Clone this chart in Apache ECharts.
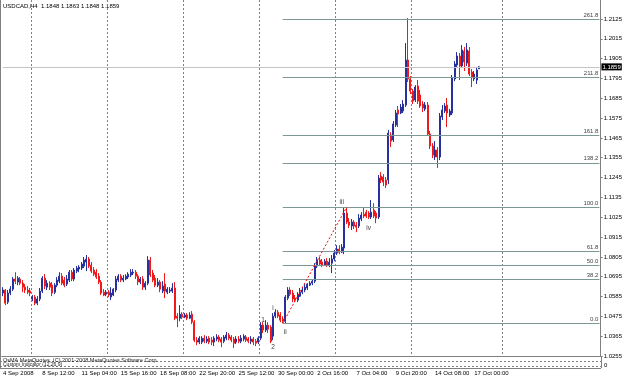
<!DOCTYPE html>
<html><head><meta charset="utf-8">
<script src="https://cdn.jsdelivr.net/npm/echarts@6/dist/echarts.min.js"></script>
<style>html,body{margin:0;padding:0;background:#fff}#c{width:625px;height:378px}</style>
</head><body><div id="c"></div>
<script>
const symbolName = 'USDCAD,H4';
const barCount = 244; // bar slots incl. right-side chart shift
const xTickIndex = [0,16,32,48,64,80,96,112,128,144,160,176,192];
const xTickLabels = ['4 Sep 2008','8 Sep 12:00','11 Sep 04:00','15 Sep 16:00','18 Sep 08:00','22 Sep 20:00','25 Sep 12:00','30 Sep 00:00','2 Oct 16:00','7 Oct 04:00','9 Oct 20:00','14 Oct 08:00','17 Oct 00:00'];
const weekLineIndex = [12,43,74,105,136,167,204];
const yTickValues = [1.0255,1.0365,1.0475,1.0585,1.0695,1.0805,1.0915,1.1025,1.1135,1.1245,1.1355,1.1465,1.1575,1.1685,1.1795,1.1905,1.2015,1.2125];
// [open, close, low, high]
const candles = [
[1.0604,1.0621,1.0587,1.0637],[1.0621,1.0548,1.0537,1.0626],[1.0554,1.0604,1.0543,1.0621],[1.0604,1.0626,1.0593,1.0643],
[1.0626,1.0682,1.0615,1.0693],[1.0682,1.0670,1.0654,1.0720],[1.0665,1.0687,1.0648,1.0698],[1.0682,1.0659,1.0648,1.0693],
[1.0659,1.0637,1.0609,1.0676],[1.0637,1.0621,1.0604,1.0654],[1.0621,1.0609,1.0598,1.0643],[1.0615,1.0604,1.0587,1.0632],
[1.0571,1.0582,1.0559,1.0593],[1.0582,1.0548,1.0537,1.0593],[1.0548,1.0571,1.0537,1.0587],[1.0571,1.0615,1.0559,1.0632],
[1.0615,1.0687,1.0604,1.0698],[1.0687,1.0643,1.0626,1.0709],[1.0637,1.0659,1.0621,1.0676],[1.0659,1.0637,1.0621,1.0670],
[1.0648,1.0604,1.0587,1.0665],[1.0609,1.0648,1.0598,1.0659],[1.0648,1.0676,1.0637,1.0693],[1.0670,1.0698,1.0659,1.0720],
[1.0698,1.0659,1.0648,1.0715],[1.0676,1.0648,1.0637,1.0693],[1.0654,1.0682,1.0643,1.0704],[1.0676,1.0720,1.0665,1.0732],
[1.0720,1.0682,1.0670,1.0732],[1.0682,1.0732,1.0670,1.0743],[1.0726,1.0743,1.0715,1.0754],[1.0737,1.0748,1.0720,1.0759],
[1.0743,1.0765,1.0732,1.0776],[1.0754,1.0787,1.0743,1.0804],[1.0776,1.0793,1.0726,1.0815],[1.0793,1.0754,1.0743,1.0804],
[1.0759,1.0726,1.0715,1.0776],[1.0732,1.0709,1.0698,1.0748],[1.0720,1.0693,1.0682,1.0737],[1.0698,1.0665,1.0654,1.0715],
[1.0665,1.0604,1.0593,1.0676],[1.0609,1.0593,1.0587,1.0626],[1.0598,1.0609,1.0587,1.0621],[1.0609,1.0593,1.0582,1.0621],
[1.0582,1.0604,1.0565,1.0637],[1.0593,1.0626,1.0587,1.0632],[1.0621,1.0682,1.0609,1.0698],[1.0676,1.0698,1.0665,1.0709],
[1.0698,1.0676,1.0665,1.0709],[1.0676,1.0687,1.0665,1.0704],[1.0682,1.0698,1.0676,1.0709],[1.0693,1.0709,1.0682,1.0720],
[1.0704,1.0720,1.0693,1.0737],[1.0715,1.0720,1.0704,1.0737],[1.0720,1.0698,1.0682,1.0732],[1.0698,1.0665,1.0648,1.0709],
[1.0665,1.0682,1.0654,1.0693],[1.0682,1.0637,1.0621,1.0698],[1.0637,1.0659,1.0621,1.0670],[1.0659,1.0787,1.0648,1.0809],
[1.0787,1.0704,1.0693,1.0804],[1.0715,1.0676,1.0665,1.0732],[1.0687,1.0648,1.0637,1.0704],[1.0648,1.0665,1.0637,1.0687],
[1.0665,1.0626,1.0609,1.0676],[1.0615,1.0643,1.0604,1.0670],[1.0654,1.0615,1.0576,1.0715],[1.0609,1.0626,1.0598,1.0637],
[1.0615,1.0621,1.0604,1.0637],[1.0615,1.0632,1.0604,1.0659],[1.0632,1.0465,1.0454,1.0665],[1.0476,1.0465,1.0415,1.0493],
[1.0465,1.0487,1.0448,1.0537],[1.0487,1.0471,1.0460,1.0498],[1.0471,1.0482,1.0465,1.0493],[1.0482,1.0465,1.0454,1.0493],
[1.0465,1.0482,1.0460,1.0498],[1.0487,1.0443,1.0432,1.0504],[1.0443,1.0343,1.0332,1.0454],[1.0343,1.0332,1.0315,1.0360],
[1.0332,1.0354,1.0321,1.0365],[1.0332,1.0354,1.0321,1.0365],[1.0354,1.0337,1.0326,1.0371],[1.0337,1.0349,1.0326,1.0365],
[1.0354,1.0332,1.0321,1.0365],[1.0343,1.0332,1.0315,1.0360],[1.0332,1.0354,1.0310,1.0365],[1.0349,1.0360,1.0337,1.0376],
[1.0360,1.0343,1.0332,1.0371],[1.0349,1.0332,1.0304,1.0360],[1.0337,1.0360,1.0326,1.0371],[1.0354,1.0371,1.0343,1.0388],
[1.0371,1.0354,1.0343,1.0382],[1.0360,1.0343,1.0332,1.0371],[1.0349,1.0326,1.0299,1.0360],[1.0332,1.0349,1.0321,1.0365],
[1.0349,1.0337,1.0326,1.0365],[1.0337,1.0354,1.0326,1.0371],[1.0349,1.0365,1.0337,1.0376],[1.0360,1.0343,1.0332,1.0371],
[1.0349,1.0337,1.0326,1.0360],[1.0337,1.0349,1.0321,1.0365],[1.0349,1.0332,1.0315,1.0360],[1.0337,1.0326,1.0310,1.0349],
[1.0332,1.0354,1.0321,1.0365],[1.0354,1.0426,1.0343,1.0443],[1.0426,1.0399,1.0382,1.0443],[1.0399,1.0426,1.0388,1.0454],
[1.0426,1.0404,1.0382,1.0443],[1.0415,1.0337,1.0326,1.0426],[1.0365,1.0476,1.0343,1.0493],[1.0476,1.0498,1.0465,1.0515],
[1.0498,1.0476,1.0465,1.0510],[1.0482,1.0454,1.0443,1.0498],[1.0460,1.0448,1.0437,1.0476],[1.0448,1.0582,1.0437,1.0593],
[1.0576,1.0621,1.0565,1.0637],[1.0621,1.0598,1.0587,1.0637],[1.0604,1.0571,1.0554,1.0621],[1.0576,1.0565,1.0554,1.0593],
[1.0565,1.0593,1.0554,1.0609],[1.0587,1.0609,1.0582,1.0632],[1.0609,1.0621,1.0598,1.0637],[1.0621,1.0637,1.0609,1.0654],
[1.0632,1.0654,1.0621,1.0659],[1.0648,1.0659,1.0643,1.0670],[1.0659,1.0670,1.0648,1.0682],[1.0670,1.0754,1.0659,1.0770],
[1.0754,1.0787,1.0743,1.0804],[1.0787,1.0765,1.0754,1.0804],[1.0776,1.0759,1.0748,1.0793],[1.0759,1.0781,1.0754,1.0793],
[1.0781,1.0759,1.0748,1.0798],[1.0759,1.0776,1.0748,1.0798],[1.0770,1.0793,1.0715,1.0815],[1.0793,1.0826,1.0781,1.0843],
[1.0826,1.0848,1.0815,1.0870],[1.0848,1.0831,1.0820,1.0870],[1.0831,1.0859,1.0826,1.0876],[1.0854,1.1048,1.0820,1.1076],
[1.1048,1.0998,1.0987,1.1081],[1.0998,1.0981,1.0965,1.1020],[1.0976,1.0998,1.0954,1.1015],[1.0998,1.0976,1.0959,1.1009],
[1.0981,1.0970,1.0942,1.0998],[1.0976,1.1020,1.0965,1.1042],[1.1015,1.1037,1.1003,1.1053],[1.1042,1.1031,1.1020,1.1076],
[1.1053,1.1031,1.1020,1.1065],[1.1048,1.1026,1.1015,1.1059],[1.1026,1.1053,1.1015,1.1120],[1.1065,1.1031,1.1020,1.1103],
[1.1048,1.1020,1.0992,1.1059],[1.1026,1.1242,1.1015,1.1259],[1.1253,1.1231,1.1214,1.1275],[1.1248,1.1220,1.1198,1.1264],
[1.1231,1.1203,1.1187,1.1248],[1.1231,1.1492,1.1209,1.1509],[1.1481,1.1447,1.1414,1.1497],[1.1453,1.1542,1.1442,1.1558],
[1.1536,1.1603,1.1525,1.1620],[1.1620,1.1597,1.1525,1.1642],[1.1603,1.1636,1.1597,1.1653],[1.1614,1.1653,1.1603,1.1675],
[1.1647,1.1897,1.1636,1.1991],[1.1897,1.1792,1.1775,1.2130],[1.1792,1.1725,1.1708,1.1808],[1.1725,1.1669,1.1653,1.1736],
[1.1675,1.1747,1.1664,1.1758],[1.1753,1.1669,1.1653,1.1786],[1.1703,1.1642,1.1631,1.1731],[1.1653,1.1631,1.1608,1.1669],
[1.1625,1.1647,1.1614,1.1664],[1.1647,1.1486,1.1475,1.1664],[1.1486,1.1420,1.1403,1.1503],[1.1420,1.1370,1.1353,1.1436],
[1.1359,1.1398,1.1342,1.1447],[1.1398,1.1359,1.1298,1.1414],[1.1359,1.1586,1.1342,1.1603],[1.1581,1.1620,1.1564,1.1647],
[1.1614,1.1642,1.1603,1.1658],[1.1647,1.1603,1.1525,1.1686],[1.1592,1.1614,1.1581,1.1625],[1.1603,1.1797,1.1592,1.1814],
[1.1792,1.1875,1.1780,1.1891],[1.1869,1.1919,1.1858,1.1941],[1.1919,1.1864,1.1786,1.1936],[1.1864,1.1953,1.1853,1.1980],
[1.1947,1.1886,1.1836,1.1969],[1.1880,1.1953,1.1864,1.1991],[1.1947,1.1819,1.1808,1.1969],[1.1830,1.1803,1.1747,1.1847],
[1.1792,1.1819,1.1780,1.1836],[1.1786,1.1842,1.1764,1.1853],[1.1848,1.1859,1.1848,1.1863]
];
const fibLevels = [0, 38.2, 50, 61.8, 100, 138.2, 161.8, 211.8, 261.8];
const fibStartBar = 114, fibEndBar = 140;
const fibLow = 1.0437, fibHigh = 1.1081;
const waveLabels = [['1',106,1.0454],['i',110,1.0521],['ii',115,1.0388],['2',110,1.0304],['iii',138,1.1109],['iv',149,1.0965]];

const categories = Array.from({length: barCount}, (_, i) => String(i));
const last = candles[candles.length - 1];
const lastClose = last[1];
const fibColor = '#7d9696';
const fontFam = 'Liberation Sans, Arial, sans-serif';
const fibLines = fibLevels.map(l => {
  const v = fibLow + (fibHigh - fibLow) * l / 100;
  return [{coord: [fibStartBar, v], lineStyle: {color: fibColor, width: 1, type: 'solid'},
           label: {show: true, position: 'insideEndTop', formatter: l.toFixed(1), fontSize: 6, color: '#444', distance: 1}},
          {coord: [barCount - 1, v]}];
});
const trendLine = [{coord: [fibStartBar, fibLow], lineStyle: {color: '#ff0000', width: 1, type: [2, 2]}, label: {show: false}},
                   {coord: [fibEndBar, fibHigh]}];
const priceLine = [{coord: [0, lastClose], lineStyle: {color: '#c4c4c4', width: 1, type: 'solid'},
                    label: {show: true, position: 'end', formatter: lastClose.toFixed(4), fontSize: 6, color: '#fff',
                            backgroundColor: '#000', padding: [1, 1, 0, 1], distance: 2}},
                   {coord: [barCount - 1, lastClose]}];

const chart = echarts.init(document.getElementById('c'), null, {renderer: 'canvas'});
chart.setOption({
  animation: false,
  backgroundColor: '#fff',
  textStyle: {fontFamily: fontFam},
  grid: {left: 1, right: 24, top: 0, bottom: 22, containLabel: false},
  xAxis: {
    type: 'category', data: categories, boundaryGap: true,
    axisLine: {show: true, lineStyle: {color: '#808080', width: 1}},
    axisTick: {show: false},
    axisLabel: {
      show: true, interval: (i) => xTickIndex.includes(i),
      formatter: (v) => { const k = xTickIndex.indexOf(Number(v)); return k >= 0 ? xTickLabels[k] : ''; },
      align: 'left', fontSize: 6, color: '#000', margin: 14
    },
    splitLine: {show: true, interval: (i) => weekLineIndex.includes(i), lineStyle: {color: '#808080', type: [2, 2], width: 1}}
  },
  yAxis: {
    type: 'value', position: 'right', min: 1.0255, max: 1.2230,
    axisLine: {show: true, lineStyle: {color: '#808080', width: 1}},
    axisTick: {show: true, length: 2, customValues: yTickValues, lineStyle: {color: '#808080'}},
    axisLabel: {show: true, customValues: yTickValues, formatter: v => v.toFixed(4), fontSize: 6, color: '#000', margin: 3},
    splitLine: {show: false}
  },
  series: [
    {
      type: 'candlestick', data: candles, barWidth: 1.5,
      itemStyle: {color: '#26319e', color0: '#f01818', borderColor: '#26319e', borderColor0: '#f01818', borderWidth: 1},
      markLine: {
        silent: true, symbol: ['none', 'none'], animation: false,
        data: [...fibLines, trendLine, priceLine]
      }
    },
    {
      type: 'scatter', data: waveLabels.map(w => ({value: [w[1], w[2]], name: w[0]})),
      symbolSize: 1, itemStyle: {color: 'rgba(0,0,0,0)'}, silent: true,
      label: {show: true, position: 'inside', formatter: p => p.name, fontSize: 6.5, color: '#000'}
    }
  ],
  graphic: [
    {type: 'text', left: 3, top: 3, style: {text: symbolName + '  ' + [last[0], last[3], last[2], last[1]].map(v => v.toFixed(4)).join(' '), fontSize: 6, fill: '#000', fontFamily: fontFam}},
    {type: 'line', shape: {x1: 0.5, y1: 0, x2: 0.5, y2: 368}, style: {stroke: '#808080', lineWidth: 1}},
    {type: 'line', shape: {x1: 601.5, y1: 356, x2: 601.5, y2: 368}, style: {stroke: '#808080', lineWidth: 1}},
    {type: 'line', shape: {x1: 0, y1: 361.5, x2: 601, y2: 361.5}, style: {stroke: '#808080', lineWidth: 1, lineDash: [2, 2]}},
    {type: 'line', shape: {x1: 0, y1: 366.5, x2: 601, y2: 366.5}, style: {stroke: '#808080', lineWidth: 1, lineDash: [2, 2]}},
    {type: 'line', shape: {x1: 0, y1: 368.5, x2: 601, y2: 368.5}, style: {stroke: '#808080', lineWidth: 1}},
    {type: 'text', left: 3, top: 357, style: {text: 'OsMA MetaQuotes, (C) 2001-2008 MetaQuotes Software Corp.', fontSize: 5.5, fill: '#222', fontFamily: fontFam}},
    {type: 'text', left: 3, top: 362.5, style: {text: 'Custom Indicator (12,26,9)', fontSize: 5, fill: '#222', fontFamily: fontFam}},
    {type: 'text', left: 604, top: 362.5, style: {text: '0', fontSize: 6, fill: '#000', fontFamily: fontFam}}
  ]
});
</script></body></html>
